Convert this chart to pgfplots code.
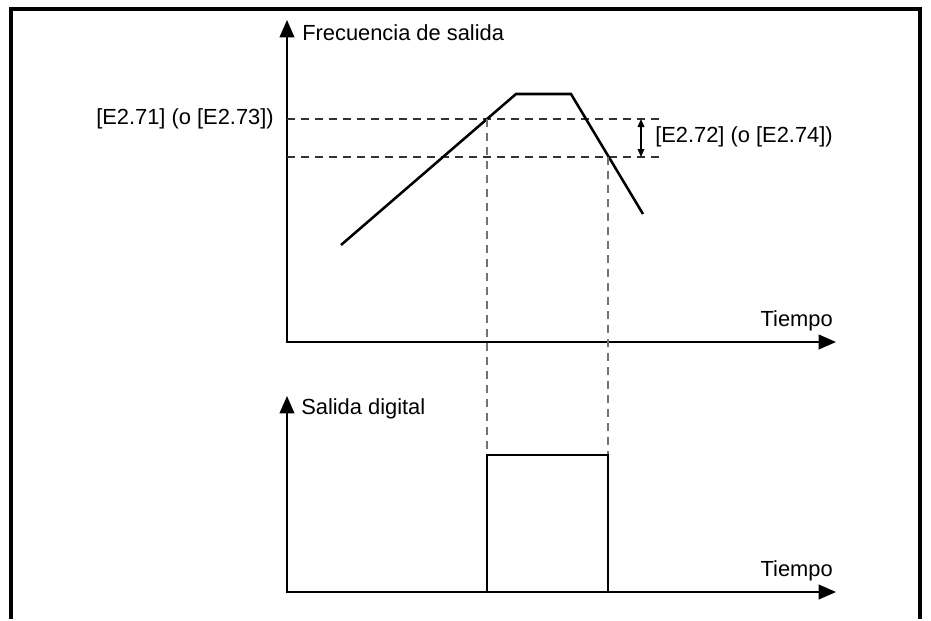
\documentclass[border=0pt]{standalone}
\usepackage{pgfplots}
\pgfplotsset{compat=1.18}
\usetikzlibrary{arrows.meta}
\usepackage{fontspec}
\setmainfont{Liberation Sans}
\newcommand{\lblfont}{\fontsize{16.4}{19}\selectfont}

\begin{document}
\begin{tikzpicture}[font=\lblfont]
% pixel grid of the reference: x 0..931 right, y 0..619 down
\begin{axis}[
  width=698.25pt, height=464.25pt, scale only axis,
  xmin=0, xmax=931, ymin=0, ymax=619, y dir=reverse,
  hide axis, clip=false,
]
\path (rel axis cs:0,0) rectangle (rel axis cs:1,1);

% outer frame, open at the bottom
\addplot[black, line width=2.3pt, line join=miter] coordinates {(11,619) (11,9) (920,9) (920,619)};

% --- upper panel: output frequency ---
\addplot[black, line width=1.5pt, -{Triangle[length=13pt, width=11pt]}] coordinates {(287,343) (287,20)};
\addplot[black, line width=1.5pt, -{Triangle[length=13pt, width=11pt]}] coordinates {(286,342) (836,342)};

% threshold levels
\addplot[black!80, line width=1.1pt, dash pattern=on 6pt off 4.5pt] coordinates {(287,119) (660,119)};
\addplot[black!80, line width=1.1pt, dash pattern=on 6pt off 4.5pt] coordinates {(287,157) (660,157)};
\addplot[black, line width=0.9pt, {Triangle[length=6pt, width=5pt]}-{Triangle[length=6pt, width=5pt]}] coordinates {(641,119) (641,157)};

% frequency ramp
\addplot[black, line width=1.9pt, line join=miter] coordinates {(341,245) (516,94) (571,94) (643,214)};

% projection lines
\addplot[black!55, line width=0.9pt, dash pattern=on 6pt off 4.5pt] coordinates {(487,119) (487,455)};
\addplot[black!55, line width=0.9pt, dash pattern=on 6pt off 4.5pt] coordinates {(608,157) (608,455)};

% --- lower panel: digital output ---
\addplot[black, line width=1.5pt, -{Triangle[length=13pt, width=11pt]}] coordinates {(287,593) (287,396)};
\addplot[black, line width=1.5pt, -{Triangle[length=13pt, width=11pt]}] coordinates {(286,592) (836,592)};
\addplot[black, line width=1.6pt] coordinates {(487,592) (487,455) (608,455) (608,592)};

% labels
\node[anchor=west, inner sep=0pt] at (axis cs:302,33) {Frecuencia de salida};
\node[anchor=east, inner sep=0pt] at (axis cs:274,119) {[E2.71] (o [E2.73])};
\node[anchor=west, inner sep=0pt] at (axis cs:655,137) {[E2.72] (o [E2.74])};
\node[anchor=east, inner sep=0pt] at (axis cs:833,321) {Tiempo};
\node[anchor=west, inner sep=0pt] at (axis cs:301,409) {Salida digital};
\node[anchor=east, inner sep=0pt] at (axis cs:833,571) {Tiempo};
\end{axis}
\end{tikzpicture}
\end{document}
